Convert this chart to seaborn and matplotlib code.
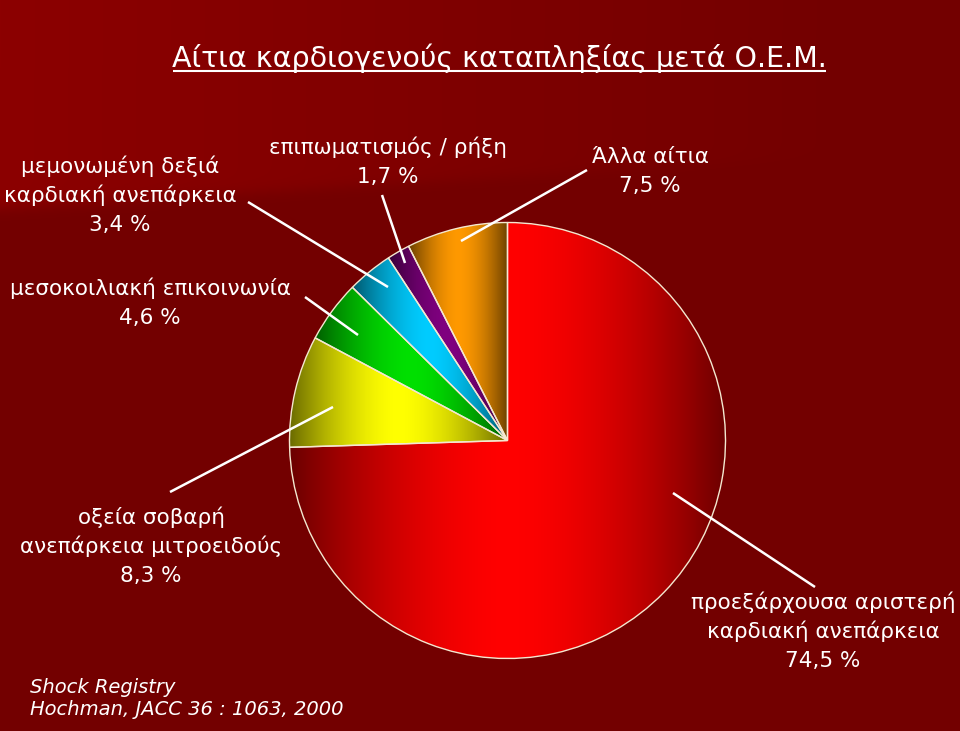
import numpy as np
import matplotlib
matplotlib.use("Agg")
import matplotlib.pyplot as plt
import seaborn as sns
from matplotlib.colors import to_rgb

# ---------------- data ----------------
causes = [
    "προεξάρχουσα αριστερή\nκαρδιακή ανεπάρκεια",
    "οξεία σοβαρή\nανεπάρκεια μιτροειδούς",
    "μεσοκοιλιακή επικοινωνία",
    "μεμονωμένη δεξιά\nκαρδιακή ανεπάρκεια",
    "επιπωματισμός / ρήξη",
    "Άλλα αίτια",
]
shares = [74.5, 8.3, 4.6, 3.4, 1.7, 7.5]
share_labels = ["74,5 %", "8,3 %", "4,6 %", "3,4 %", "1,7 %", "7,5 %"]
slice_colors = ["#FF0000", "#FFFF00", "#00E000", "#00CCFF", "#800080", "#FF9900"]
title = "Αίτια καρδιογενούς καταπληξίας μετά Ο.Ε.Μ."
source_lines = ["Shock Registry", "Hochman, JACC 36 : 1063, 2000"]

# ---------------- layout (pixels, origin top-left) ----------------
W, H = 960, 731
pie_center_px = (507.5, 440.5)
pie_radius_px = 218
label_anchor = [(823, 609), (151, 524), (150, 295), (120, 173), (388, 154), (650, 163)]
leader_lines = [
    ((673, 493), (815, 587)),
    ((170, 492), (333, 407)),
    ((305, 297), (358, 335)),
    ((248, 202), (388, 287)),
    ((382, 195), (405, 263)),
    ((587, 170), (461, 241)),
]
line_step = 29
label_size = 15.5
title_size = 20.5
source_size = 14

sns.set_theme(style="white")
plt.rcParams["font.family"] = ["DejaVu Sans"]

fig = plt.figure(figsize=(W / 100, H / 100), dpi=100)
ax = fig.add_axes([0, 0, 1, 1])

# background
yy, xx = np.mgrid[0:H, 0:W].astype(float)
dark = np.array([0x73, 0x00, 0x00]) / 255
light = np.array([0x8C, 0x00, 0x00]) / 255
boundary = 208 - 0.062 * xx
above = 1 / (1 + np.exp((yy - boundary) / 4.0))
wgt = np.clip(1 - xx / 850, 0, 1)
mix = (above * wgt)[..., None]
bg = dark + (light - dark) * mix
ax.imshow(bg, extent=[0, W, 0, H], origin="upper", aspect="auto", zorder=0)

def py(y):
    return H - y

cx, cy = pie_center_px[0], py(pie_center_px[1])
wedges, _ = ax.pie(
    shares, colors=slice_colors, startangle=90, counterclock=False,
    center=(cx, cy), radius=pie_radius_px,
    wedgeprops=dict(linewidth=1.0, edgecolor="#f4e8d0"),
)

ax.set_xlim(0, W)
ax.set_ylim(0, H)
ax.set_aspect("auto")
ax.axis("off")

# gradient fill inside each wedge (dark edges, bright centre, horizontal)
n = 400
t = np.abs(np.linspace(-1, 1, n))
f = 1 - 0.58 * t ** 1.7
for w, c in zip(wedges, slice_colors):
    ext = w.get_path().get_extents()
    img = np.clip(np.array(to_rgb(c))[None, None, :] * f[None, :, None], 0, 1)
    im = ax.imshow(img, extent=[ext.x0, ext.x1, ext.y0, ext.y1], aspect="auto",
                   zorder=2, interpolation="bilinear")
    im.set_clip_path(w)
    w.set_facecolor("none")
    w.set_zorder(3)

# leader lines
for (p0, p1) in leader_lines:
    ax.plot([p0[0], p1[0]], [py(p0[1]), py(p1[1])], color="white", lw=1.8,
            solid_capstyle="butt", zorder=4)

# labels
for cause, pct, (lx, ly) in zip(causes, share_labels, label_anchor):
    lines = cause.split("\n") + [pct]
    for k, s in enumerate(lines):
        ax.text(lx, py(ly + k * line_step), s, ha="center", va="baseline",
                color="white", fontsize=label_size, zorder=5)

# source
for k, s in enumerate(source_lines):
    ax.text(30, py(693 + k * 22), s, ha="left", va="baseline", color="white",
            fontsize=source_size, style="italic", zorder=5)

# title with underline
tt = ax.text(172, py(67), title, ha="left", va="baseline", color="white",
             fontsize=title_size, zorder=5)
ax.set_xlim(0, W)
ax.set_ylim(0, H)
fig.canvas.draw()
bb = tt.get_window_extent(fig.canvas.get_renderer())
inv = ax.transData.inverted()
(x0d, _), (x1d, _) = inv.transform([(bb.x0, bb.y0), (bb.x1, bb.y1)])
ax.plot([x0d + 1, x1d - 1], [py(71), py(71)], color="white", lw=1.5,
        solid_capstyle="butt", zorder=5)

ax.set_xlim(0, W)
ax.set_ylim(0, H)

fig.savefig("out.png", dpi=100)
